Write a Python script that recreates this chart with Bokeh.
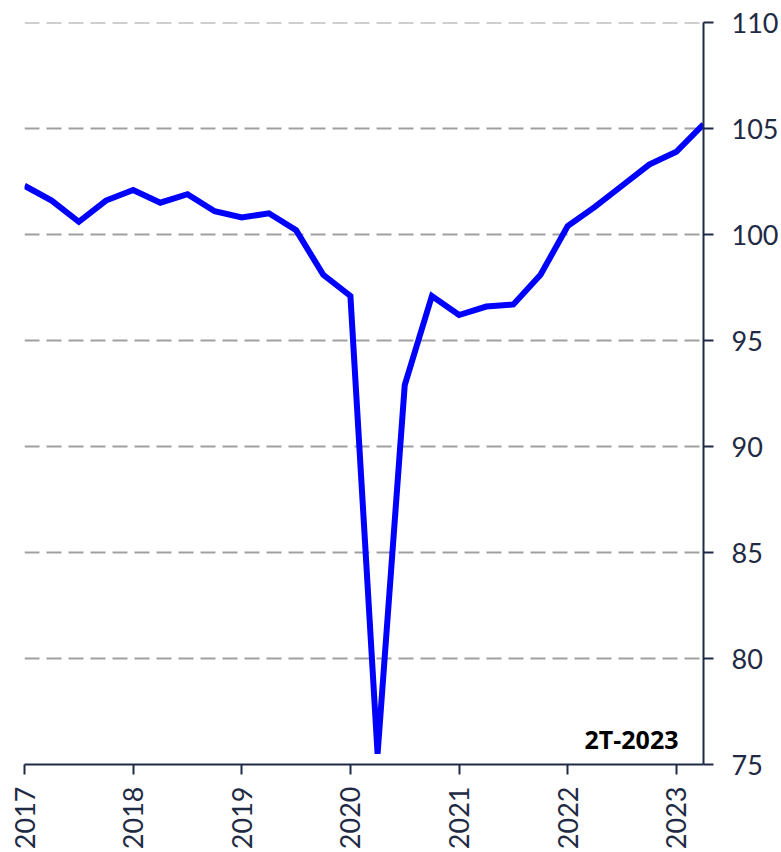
import math
from bokeh.plotting import figure
from bokeh.models import FixedTicker, Range1d, Label, ColumnDataSource, Span
from bokeh.embed import file_html
from bokeh.resources import INLINE

years = [2017]*4 + [2018]*4 + [2019]*4 + [2020]*4 + [2021]*4 + [2022]*4 + [2023]*2
quarters = [1, 2, 3, 4]*6 + [1, 2]
values = [102.3, 101.6, 100.6, 101.6, 102.1, 101.5, 101.9, 101.1,
          100.8, 101.0, 100.2, 98.1, 97.1, 75.5, 92.9, 97.1,
          96.2, 96.6, 96.7, 98.1, 100.4, 101.3, 102.3, 103.3,
          103.9, 105.2]
year_ticks = [2017, 2018, 2019, 2020, 2021, 2022, 2023]
y_ticks = [75, 80, 85, 90, 95, 100, 105, 110]
period_label = "2T-2023"

xs = [y + (q - 1) / 4 for y, q in zip(years, quarters)]
src = ColumnDataSource(dict(x=xs, y=values))

navy = "#1F2A44"
font = "Lato"
grid_color = "#A0A0A0"

p = figure(width=781, height=852, output_backend="svg", toolbar_location=None,
           y_axis_location="right",
           x_range=Range1d(xs[0], xs[-1]), y_range=Range1d(y_ticks[0], y_ticks[-1]),
           min_border_left=24, min_border_top=22, min_border_right=78, min_border_bottom=86)
p.outline_line_color = None
p.background_fill_color = "white"
p.border_fill_color = "white"

p.xgrid.grid_line_color = None
p.ygrid.grid_line_color = grid_color
p.ygrid.grid_line_width = 2
p.ygrid.grid_line_dash = "15 7"

top_grid = Span(location=y_ticks[-1], dimension="width", line_color=grid_color,
                line_width=2, line_dash="15 7")
p.add_layout(top_grid)

p.line("x", "y", source=src, line_color="#0000FF", line_width=6, line_join="miter")

for ax in (p.xaxis[0], p.yaxis[0]):
    ax.axis_line_color = navy
    ax.axis_line_width = 2
    ax.major_tick_line_color = navy
    ax.major_tick_line_width = 2
    ax.major_tick_in = 0
    ax.major_tick_out = 10
    ax.minor_tick_line_color = None
    ax.major_label_text_color = navy
    ax.major_label_text_font = font
    ax.major_label_text_font_size = "27px"

p.xaxis.ticker = FixedTicker(ticks=year_ticks)
p.xaxis.major_label_overrides = {t: str(t) for t in year_ticks}
p.xaxis.major_label_orientation = math.pi / 2
p.xaxis.major_label_standoff = 12

p.yaxis.ticker = FixedTicker(ticks=y_ticks)
p.yaxis.major_label_standoff = 18

lab = Label(x=xs[-1], y=y_ticks[0], text=period_label, x_offset=-25, y_offset=9,
            text_align="right", text_baseline="bottom", text_font="Open Sans",
            text_font_style="bold", text_font_size="25px", text_color="black")
p.add_layout(lab)

open("out.html", "w").write(file_html(p, INLINE))
